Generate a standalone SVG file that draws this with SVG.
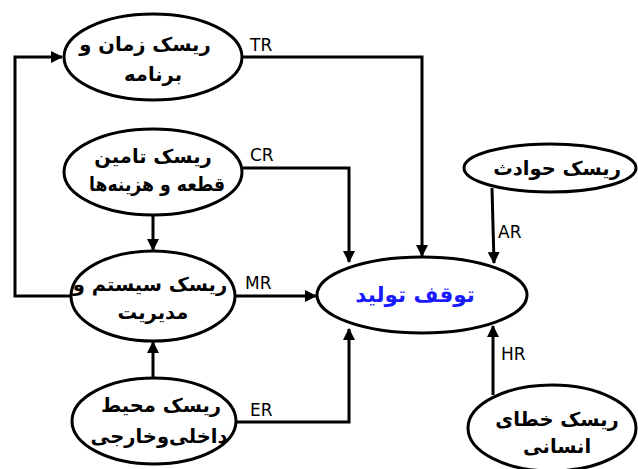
<svg xmlns="http://www.w3.org/2000/svg" width="638" height="469" viewBox="0 0 638 469">
  <style>
    .node ellipse { fill: #fff; stroke: #000; stroke-width: 3; }
    .fa { font-family: "DejaVu Sans", "Noto Sans", sans-serif; font-weight: bold; font-size: 19.5px; text-anchor: middle; dominant-baseline: central; fill: #000; }
    .main { font-size: 21.5px; fill: #1a1aff; }
    .lbl { font-family: "DejaVu Sans", "Liberation Sans", sans-serif; font-size: 17px; fill: #000; }
    .conn path { fill: none; stroke: #000; stroke-width: 3; }
  </style>
  <defs>
    <marker id="arrow" viewBox="0 0 12 12" refX="11" refY="6" markerWidth="12" markerHeight="12" markerUnits="userSpaceOnUse" orient="auto">
      <path d="M0,0 L12,6 L0,12 Z" fill="#000"/>
    </marker>
  </defs>
  <rect width="638" height="469" fill="#fff"/>

  <!-- connectors -->
  <g id="connectors" class="conn">
    <path d="M71,296 H15 V57 H62" marker-end="url(#arrow)"/>
    <path d="M243,57 H422 V256" marker-end="url(#arrow)"/>
    <path d="M243,168 H349 V262" marker-end="url(#arrow)"/>
    <path d="M153,215 V250" marker-end="url(#arrow)"/>
    <path d="M236,296 H316" marker-end="url(#arrow)"/>
    <path d="M153,378 V342" marker-end="url(#arrow)"/>
    <path d="M236,422 H349 V329" marker-end="url(#arrow)"/>
    <path d="M492,188 L494,263" marker-end="url(#arrow)"/>
    <path d="M493,395 V326" marker-end="url(#arrow)"/>
  </g>

  <!-- connector labels -->
  <g id="labels">
    <text class="lbl" x="250" y="51">TR</text>
    <text class="lbl" x="250" y="161">CR</text>
    <text class="lbl" x="245" y="289">MR</text>
    <text class="lbl" x="250" y="416">ER</text>
    <text class="lbl" x="498" y="238">AR</text>
    <text class="lbl" x="501" y="360">HR</text>
  </g>

  <g id="node-tr" class="node">
    <ellipse cx="153" cy="57" rx="89" ry="43"/>
    <text class="fa" x="145" y="44">ریسک زمان  و</text>
    <text class="fa" x="153" y="74">برنامه</text>
  </g>

  <g id="node-cr" class="node">
    <ellipse cx="153" cy="172" rx="89" ry="43"/>
    <text class="fa" x="153" y="156">ریسک تامین</text>
    <text class="fa" x="157" y="184" textLength="136" lengthAdjust="spacingAndGlyphs">قطعه و هزینه‌ها</text>
  </g>

  <g id="node-mr" class="node">
    <ellipse cx="153" cy="296" rx="82" ry="45"/>
    <text class="fa" x="150" y="284">ریسک سیستم و</text>
    <text class="fa" x="153" y="312">مدیریت</text>
  </g>

  <g id="node-er" class="node">
    <ellipse cx="154" cy="421" rx="82" ry="43"/>
    <text class="fa" x="161" y="405">ریسک محیط</text>
    <text class="fa" x="159" y="436">داخلی‌وخارجی</text>
  </g>

  <g id="node-main" class="node">
    <ellipse cx="422" cy="295" rx="105" ry="38"/>
    <text class="fa main" x="415" y="294">توقف تولید</text>
  </g>

  <g id="node-ar" class="node">
    <ellipse cx="550" cy="168" rx="86" ry="24"/>
    <text class="fa" x="557" y="168">ریسک حوادث</text>
  </g>

  <g id="node-hr" class="node">
    <ellipse cx="552" cy="428" rx="84" ry="43"/>
    <text class="fa" x="557" y="419">ریسک خطای</text>
    <text class="fa" x="557" y="446">انسانی</text>
  </g>
</svg>
